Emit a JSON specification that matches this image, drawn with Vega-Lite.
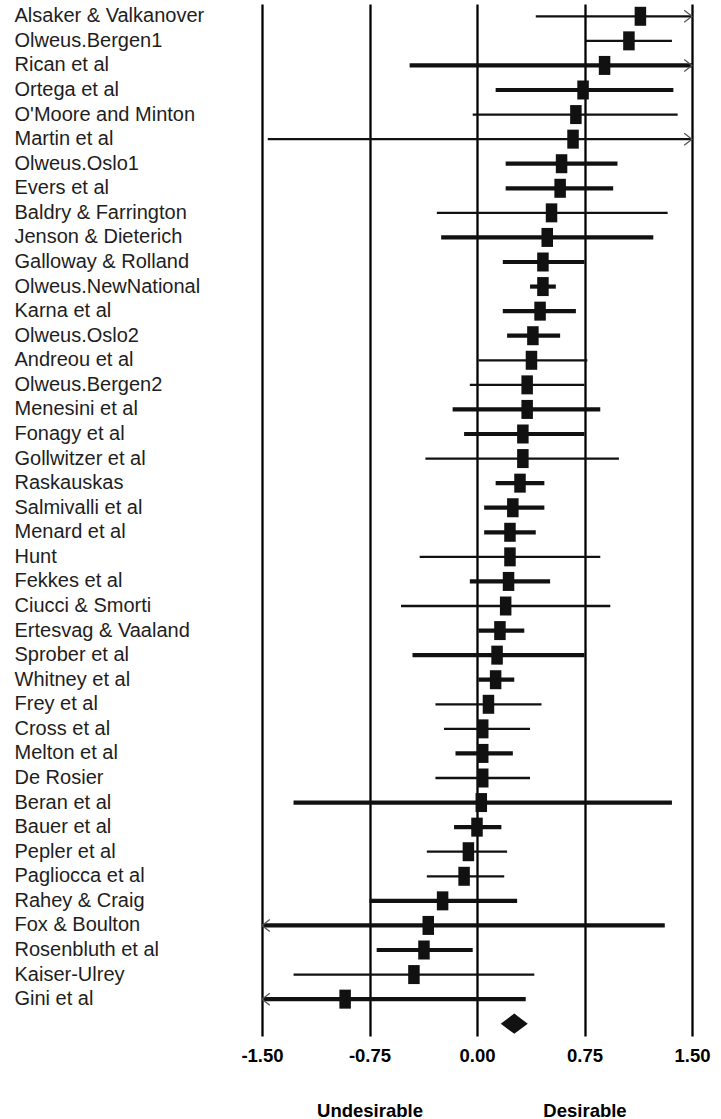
{
  "$schema": "https://vega.github.io/schema/vega-lite/v6.json",
  "width": 430,
  "height": 1032,
  "padding": {"left": 14, "top": 4, "right": 5, "bottom": 0},
  "autosize": {"type": "pad"},
  "background": "white",
  "config": {"view": {"stroke": null}, "font": "Liberation Sans"},
  "data": {
    "values": [
      {"study": "Alsaker & Valkanover", "lo": 0.41, "est": 1.14, "hi": 1.5, "grp": "A", "arrow": "right"},
      {"study": "Olweus.Bergen1", "lo": 0.76, "est": 1.06, "hi": 1.36, "grp": "A"},
      {"study": "Rican et al", "lo": -0.47, "est": 0.89, "hi": 1.5, "grp": "B", "arrow": "right"},
      {"study": "Ortega et al", "lo": 0.13, "est": 0.74, "hi": 1.37, "grp": "B"},
      {"study": "O'Moore and Minton", "lo": -0.03, "est": 0.69, "hi": 1.4, "grp": "A"},
      {"study": "Martin et al", "lo": -1.46, "est": 0.67, "hi": 1.5, "grp": "A", "arrow": "right"},
      {"study": "Olweus.Oslo1", "lo": 0.2, "est": 0.59, "hi": 0.98, "grp": "B"},
      {"study": "Evers et al", "lo": 0.2, "est": 0.58, "hi": 0.95, "grp": "B"},
      {"study": "Baldry & Farrington", "lo": -0.28, "est": 0.52, "hi": 1.33, "grp": "A"},
      {"study": "Jenson & Dieterich", "lo": -0.25, "est": 0.49, "hi": 1.23, "grp": "B"},
      {"study": "Galloway & Rolland", "lo": 0.18, "est": 0.46, "hi": 0.75, "grp": "B"},
      {"study": "Olweus.NewNational", "lo": 0.37, "est": 0.46, "hi": 0.55, "grp": "B"},
      {"study": "Karna et al", "lo": 0.18, "est": 0.44, "hi": 0.69, "grp": "B"},
      {"study": "Olweus.Oslo2", "lo": 0.21, "est": 0.39, "hi": 0.58, "grp": "B"},
      {"study": "Andreou et al", "lo": 0.01, "est": 0.38, "hi": 0.77, "grp": "A"},
      {"study": "Olweus.Bergen2", "lo": -0.05, "est": 0.35, "hi": 0.75, "grp": "A"},
      {"study": "Menesini et al", "lo": -0.17, "est": 0.35, "hi": 0.86, "grp": "B"},
      {"study": "Fonagy et al", "lo": -0.09, "est": 0.32, "hi": 0.75, "grp": "B"},
      {"study": "Gollwitzer et al", "lo": -0.36, "est": 0.32, "hi": 0.99, "grp": "A"},
      {"study": "Raskauskas", "lo": 0.13, "est": 0.3, "hi": 0.47, "grp": "B"},
      {"study": "Salmivalli et al", "lo": 0.05, "est": 0.25, "hi": 0.47, "grp": "B"},
      {"study": "Menard et al", "lo": 0.05, "est": 0.23, "hi": 0.41, "grp": "B"},
      {"study": "Hunt", "lo": -0.4, "est": 0.23, "hi": 0.86, "grp": "A"},
      {"study": "Fekkes et al", "lo": -0.05, "est": 0.22, "hi": 0.51, "grp": "B"},
      {"study": "Ciucci & Smorti", "lo": -0.53, "est": 0.2, "hi": 0.93, "grp": "A"},
      {"study": "Ertesvag & Vaaland", "lo": 0.01, "est": 0.16, "hi": 0.33, "grp": "B"},
      {"study": "Sprober et al", "lo": -0.45, "est": 0.14, "hi": 0.75, "grp": "B"},
      {"study": "Whitney et al", "lo": 0.01, "est": 0.13, "hi": 0.26, "grp": "B"},
      {"study": "Frey et al", "lo": -0.29, "est": 0.08, "hi": 0.45, "grp": "A"},
      {"study": "Cross et al", "lo": -0.23, "est": 0.04, "hi": 0.37, "grp": "A"},
      {"study": "Melton et al", "lo": -0.15, "est": 0.04, "hi": 0.25, "grp": "B"},
      {"study": "De Rosier", "lo": -0.29, "est": 0.04, "hi": 0.37, "grp": "A"},
      {"study": "Beran et al", "lo": -1.28, "est": 0.03, "hi": 1.36, "grp": "B"},
      {"study": "Bauer et al", "lo": -0.16, "est": 0.0, "hi": 0.17, "grp": "B"},
      {"study": "Pepler et al", "lo": -0.35, "est": -0.06, "hi": 0.21, "grp": "A"},
      {"study": "Pagliocca et al", "lo": -0.35, "est": -0.09, "hi": 0.19, "grp": "A"},
      {"study": "Rahey & Craig", "lo": -0.75, "est": -0.24, "hi": 0.28, "grp": "B"},
      {"study": "Fox & Boulton", "lo": -1.5, "est": -0.34, "hi": 1.31, "grp": "B", "arrow": "left"},
      {"study": "Rosenbluth et al", "lo": -0.7, "est": -0.37, "hi": -0.03, "grp": "B"},
      {"study": "Kaiser-Ulrey", "lo": -1.28, "est": -0.44, "hi": 0.4, "grp": "A"},
      {"study": "Gini et al", "lo": -1.5, "est": -0.92, "hi": 0.34, "grp": "B", "arrow": "left"},
      {"study": "Summary", "pooled": 0.26}
    ]
  },
  "encoding": {
    "y": {
      "field": "study",
      "type": "nominal",
      "sort": null,
      "scale": {"paddingInner": 0, "paddingOuter": 0},
      "axis": {
        "title": null,
        "domain": false,
        "ticks": false,
        "tickSize": 0,
        "grid": false,
        "labelAlign": "left",
        "labelPadding": 248,
        "labelLimit": 400,
        "labelFontSize": 20,
        "labelColor": "#1e1e1e",
        "labelExpr": "datum.value == 'Summary' ? '' : datum.value"
      }
    }
  },
  "layer": [
    {
      "mark": {"type": "rule", "color": "#111"},
      "encoding": {
        "x": {
          "field": "lo",
          "type": "quantitative",
          "scale": {"domain": [-1.5, 1.5], "nice": false, "zero": false},
          "axis": {
            "orient": "bottom",
            "title": null,
            "values": [-1.5, -0.75, 0, 0.75, 1.5],
            "labelExpr": "replace(format(datum.value, '.2f'), '\u2212', '-')",
            "grid": true,
            "gridColor": "#000",
            "gridWidth": 2.3,
            "gridOpacity": 1,
            "domain": false,
            "ticks": false,
            "tickSize": 0,
            "labelFlush": false,
            "labelOverlap": false,
            "labelFontWeight": "bold",
            "labelFontSize": 18.5,
            "labelColor": "#000",
            "labelPadding": 10
          }
        },
        "x2": {"field": "hi"},
        "strokeWidth": {
          "field": "grp",
          "type": "ordinal",
          "scale": {"domain": ["A", "B"], "range": [2.3, 4.2]},
          "legend": null
        }
      }
    },
    {
      "mark": {"type": "tick", "color": "#111", "thickness": 11.5, "size": 19, "opacity": 1},
      "encoding": {
        "x": {"field": "est", "type": "quantitative", "axis": null}
      }
    },
    {
      "transform": [{"filter": "datum.arrow == 'right'"}],
      "mark": {"type": "point", "shape": "M-1.3,-1L0,0L-1.3,1", "size": 144, "filled": false, "stroke": "#555", "strokeWidth": 1.3, "opacity": 1},
      "encoding": {
        "x": {"field": "hi", "type": "quantitative", "axis": null}
      }
    },
    {
      "transform": [{"filter": "datum.arrow == 'left'"}],
      "mark": {"type": "point", "shape": "M1.3,-1L0,0L1.3,1", "size": 144, "filled": false, "stroke": "#555", "strokeWidth": 1.3, "opacity": 1},
      "encoding": {
        "x": {"field": "lo", "type": "quantitative", "axis": null}
      }
    },
    {
      "mark": {"type": "point", "shape": "M-1,0L0,-0.75L1,0L0,0.75Z", "size": 729, "filled": true, "color": "#111", "opacity": 1},
      "encoding": {
        "x": {
          "field": "pooled",
          "type": "quantitative",
          "axis": {
            "orient": "bottom",
            "title": null,
            "values": [-0.75, 0.75],
            "labelExpr": "datum.value < 0 ? 'Undesirable' : 'Desirable'",
            "grid": false,
            "domain": false,
            "ticks": false,
            "tickSize": 0,
            "offset": 55,
            "labelPadding": 10,
            "labelFlush": false,
            "labelOverlap": false,
            "labelFontWeight": "bold",
            "labelFontSize": 18.5,
            "labelColor": "#000"
          }
        }
      }
    }
  ],
  "resolve": {"axis": {"x": "independent"}}
}
